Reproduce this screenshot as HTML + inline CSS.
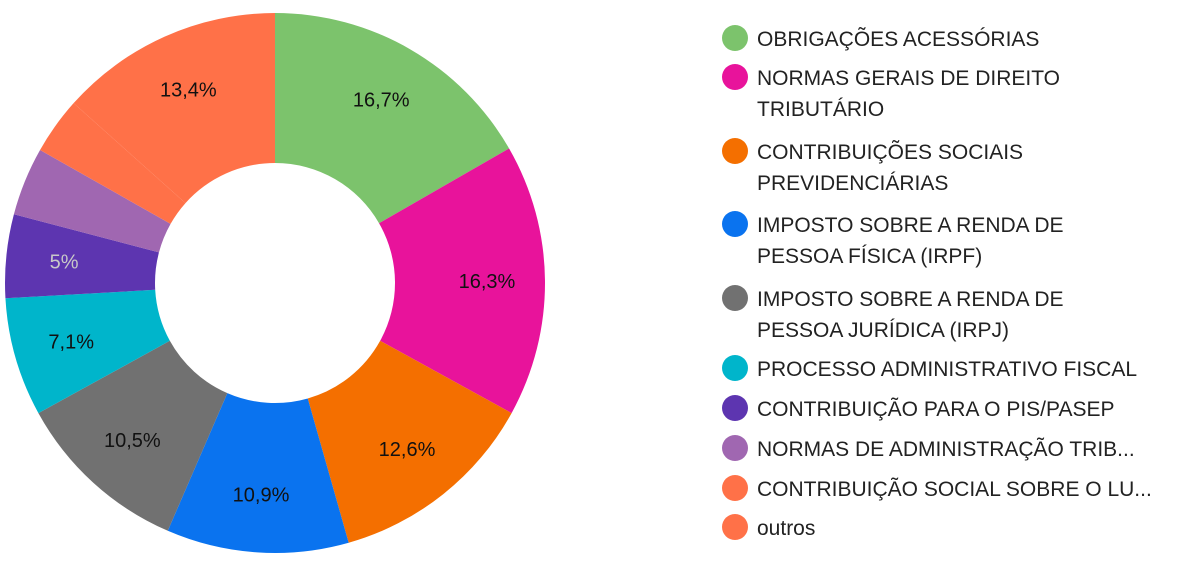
<!DOCTYPE html>
<html><head><meta charset="utf-8"><style>
body{margin:0;background:#fff;width:1200px;height:563px;overflow:hidden;font-family:"Liberation Sans",sans-serif}
svg{display:block}
</style></head><body>
<svg width="1200" height="563">
<g id="slices"></g>
<g id="labels"></g>
<g id="legend"></g>
</svg>
<script>
const categories=["OBRIGAÇÕES ACESSÓRIAS","NORMAS GERAIS DE DIREITO|TRIBUTÁRIO","CONTRIBUIÇÕES SOCIAIS|PREVIDENCIÁRIAS","IMPOSTO SOBRE A RENDA DE|PESSOA FÍSICA (IRPF)","IMPOSTO SOBRE A RENDA DE|PESSOA JURÍDICA (IRPJ)","PROCESSO ADMINISTRATIVO FISCAL","CONTRIBUIÇÃO PARA O PIS/PASEP","NORMAS DE ADMINISTRAÇÃO TRIB...","CONTRIBUIÇÃO SOCIAL SOBRE O LU...","outros"];
const values=[16.7,16.3,12.6,10.9,10.5,7.1,5,4.1,3.4,13.4];
const valueLabels=["16,7%","16,3%","12,6%","10,9%","10,5%","7,1%","5%","","","13,4%"];
const colors=["#7cc36c","#e8139b","#f46f00","#0a73ef","#717171","#00b5cb","#5d35b0","#a067b1","#ff7148","#ff7148"];
const ns="http://www.w3.org/2000/svg";
const cx=275,cy=283,R=270,r=120,LR=212;
const total=values.reduce((a,b)=>a+b,0);
function pt(a,rad){return [cx+rad*Math.sin(a),cy-rad*Math.cos(a)];}
let acc=0;
const gS=document.getElementById('slices'),gL=document.getElementById('labels'),gG=document.getElementById('legend');
values.forEach((v,i)=>{
 const a0=acc/total*2*Math.PI;acc+=v;const a1=acc/total*2*Math.PI;
 const large=(a1-a0)>Math.PI?1:0;
 const p0=pt(a0,R),p1=pt(a1,R),q1=pt(a1,r),q0=pt(a0,r);
 const p=document.createElementNS(ns,'path');
 p.setAttribute('d',`M${p0[0]},${p0[1]}A${R},${R} 0 ${large} 1 ${p1[0]},${p1[1]}L${q1[0]},${q1[1]}A${r},${r} 0 ${large} 0 ${q0[0]},${q0[1]}Z`);
 p.setAttribute('fill',colors[i]);
 
 
 gS.appendChild(p);
 if(valueLabels[i]){
  const m=pt((a0+a1)/2,LR);
  const t=document.createElementNS(ns,'text');
  t.setAttribute('x',m[0]);t.setAttribute('y',m[1]+7);
  t.setAttribute('text-anchor','middle');t.setAttribute('font-size','20');
  t.setAttribute('fill',i===6?'#c8c8c8':'#111');
  t.textContent=valueLabels[i];
  
  
  gL.appendChild(t);
 }
});
const legendY=[38,77,151,224,298,368,408,448,488,527];
categories.forEach((c,i)=>{
 const y=legendY[i];
 const ci=document.createElementNS(ns,'circle');
 ci.setAttribute('cx',735);ci.setAttribute('cy',y);ci.setAttribute('r',13);ci.setAttribute('fill',colors[i]);
 
 
 gG.appendChild(ci);
 c.split('|').forEach((line,j)=>{
  const t=document.createElementNS(ns,'text');
  t.setAttribute('x',757);t.setAttribute('y',y+8+j*31);t.setAttribute('font-size','21');t.setAttribute('fill','#222');
  t.textContent=line;
  
  
  gG.appendChild(t);
 });
});
</script>
</body></html>
